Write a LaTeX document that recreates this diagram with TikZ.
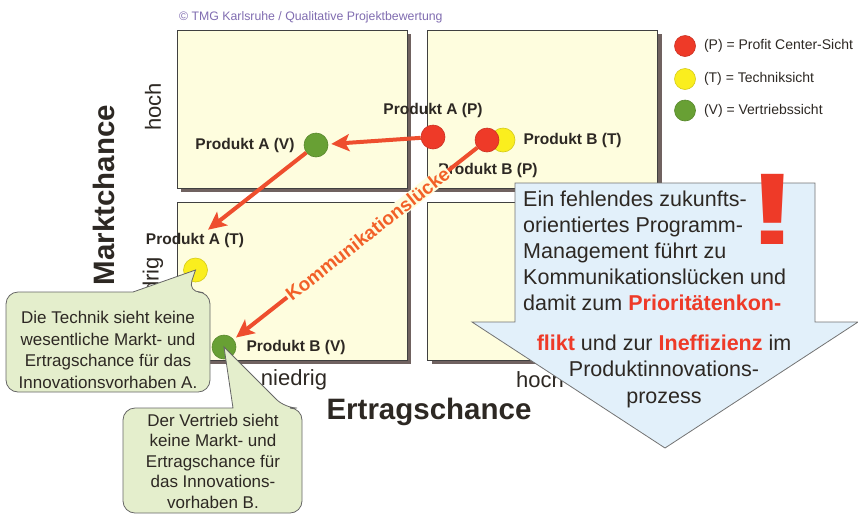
\documentclass[tikz,border=0pt]{standalone}
\usepackage{fontspec}
\setmainfont{Liberation Sans}
\usepackage{xcolor}
\usepackage{tikz}
\usetikzlibrary{arrows.meta,shadows,positioning}
\tikzset{>={Stealth[length=18pt,width=17pt,inset=4pt]}}
\definecolor{boxfill}{RGB}{254,253,222}
\definecolor{boxshadow}{RGB}{112,98,96}
\definecolor{flowred}{RGB}{238,78,46}
\definecolor{gapred}{RGB}{242,96,40}
\definecolor{pview}{RGB}{238,58,40}
\definecolor{tview}{RGB}{250,238,30}
\definecolor{vview}{RGB}{104,160,52}
\definecolor{notefill}{RGB}{228,238,204}
\definecolor{msgfill}{RGB}{226,240,250}
\definecolor{stamp}{RGB}{128,108,176}
\definecolor{ink}{RGB}{45,40,35}
\newcommand{\fs}[2]{\fontsize{#1}{#2}\selectfont}
\newcommand{\alarm}[1]{\textcolor{pview}{\bfseries #1}}

\begin{document}
\begin{tikzpicture}[x=1pt,y=-1pt,
              quad/.style={draw=black!75, line width=0.8pt, fill=boxfill,
                minimum width=230pt, minimum height=158pt,
                drop shadow={shadow xshift=4pt, shadow yshift=-4pt, fill=boxshadow, opacity=1}},
              dot/.style={circle, inner sep=0pt, minimum size=24pt, line width=0.6pt},
              pdot/.style={dot, fill=pview, draw=pview!85!black},
              tdot/.style={dot, fill=tview, draw=tview!85!black},
              vdot/.style={dot, fill=vview, draw=vview!85!black},
              lab/.style={font=\fs{15.5}{18}\bfseries, text=ink, inner sep=1pt},
              key/.style={font=\fs{14}{16}, text=ink, inner sep=0pt},
              axis/.style={font=\fs{22}{26}, text=ink},
              title/.style={font=\fs{29.5}{34}\bfseries, text=ink},
              flow/.style={->, line width=4pt, flowred, shorten >=3pt},
              note/.style={draw=black!60, line width=0.8pt, fill=notefill},
              notetext/.style={font=\fs{17}{21.5}, text=ink, align=center, inner sep=0pt},
              msg/.style={font=\fs{21.5}{26}, text=ink, inner sep=0pt},
             ]
\useasboundingbox (0,0) rectangle (858,515);

\node[anchor=west, text=stamp, font=\fs{12.3}{14}, inner sep=0pt] (stamp) at (179,17)
  {\textcopyright{} TMG Karlsruhe / Qualitative Projektbewertung};

% the four fields
\foreach \n/\x/\y in {tl/292/109, tr/542.5/109, bl/292/281, br/542.5/281}
  \node[quad] (\n) at (\x,\y) {};

% axes
\node[title, rotate=90] (ychance) at (104,195) {Marktchance};
\node[axis, rotate=90] (yhigh) at (153,107) {hoch};
\node[axis, rotate=90] (ylow) at (153,290) {niedrig};
\node[axis] (xlow) at (294,380) {niedrig};
\node[axis] (xhigh) at (540,380) {hoch};
\node[title] (xchance) at (429,412) {Ertragschance};

% products
\node[pdot] (prodAP) at (433,137) {};
\node[tdot] (prodBT) at (503,140) {};
\node[pdot] (prodBP) at (487,140) {};
\node[vdot] (prodAV) at (316,145) {};
\node[tdot] (prodAT) at (195.5,270) {};
\node[vdot] (prodBV) at (224,347) {};

\node[lab, above=6pt of prodAP] (labAP) {Produkt A (P)};
\node[lab, right=7pt of prodBT] (labBT) {Produkt B (T)};
\node[lab] (labBP) at (488,170) {Produkt B (P)};
\node[lab, left=8pt of prodAV] (labAV) {Produkt A (V)};
\node[lab] (labAT) at (195,240) {Produkt A (T)};
\node[lab, right=9pt of prodBV] (labBV) {Produkt B (V)};

\draw[flow] (prodAP) -- (prodAV);
\draw[flow] (prodAV) -- (labAT);
\draw[flow] (prodBP) -- (prodBV)
  node[pos=0.45, sloped, fill=boxfill, inner sep=1pt, text=gapred, font=\fs{19}{22}\bfseries] (gap) {Kommunikationslücke};

% big arrow
\draw[draw=black!55, line width=0.8pt, fill=msgfill] (515,183) -- (815,183) -- (815,322) -- (858,322)
  -- (665,448) -- (472,322) -- (515,322) -- cycle;
\node[msg, anchor=north west, align=left] (msgtop) at (523,191)
  {Ein fehlendes zukunfts-\\orientiertes Programm-\\Management führt zu\\Kommunikationslücken und\\damit zum \alarm{Prioritätenkon-}};
\node[msg] (msgmid) at (664,343) {\alarm{flikt} und zur \alarm{Ineffizienz} im};
\node[msg, align=center, font=\fs{21.5}{27}] (msgbot) at (664,384) {Produktinnovations-\\prozess};
\node[text=pview, font=\fs{102}{102}\bfseries, inner sep=0pt] (bang) at (773,209) {\scalebox{1.55}[1]{!}};

% callouts
\draw[note] (60,292) [rounded corners=12pt] -- (6,292) -- (6,392) -- (210,392) -- (210,292)
  -- (188,292) [sharp corners] -- (prodAT.center) -- (133,292) -- cycle;
\node[notetext] (noteA) at (108,350)
  {Die Technik sieht keine\\wesentliche Markt- und\\Ertragschance für das\\Innovationsvorhaben A.};
\draw[note] (160,408) [rounded corners=12pt] -- (123,408) -- (123,513) -- (302,513) -- (302,408)
  -- (285,408) [sharp corners] -- (prodBV.center) -- (233,408) -- cycle;
\node[notetext, font=\fs{17}{20.5}] (noteB) at (213,461)
  {Der Vertrieb sieht\\keine Markt- und\\Ertragschance für\\das Innovations-\\vorhaben B.};

% legend
\node[pdot, minimum size=21pt] (keyP) at (685,46) {};
\node[tdot, minimum size=21pt] (keyT) at (685,79) {};
\node[vdot, minimum size=21pt] (keyV) at (685,110.5) {};
\node[key, right=8pt of keyP] (txtP) {(P) = Profit Center-Sicht};
\node[key, right=8pt of keyT] (txtT) {(T) = Techniksicht};
\node[key, right=8pt of keyV] (txtV) {(V) = Vertriebssicht};
\end{tikzpicture}
\end{document}
